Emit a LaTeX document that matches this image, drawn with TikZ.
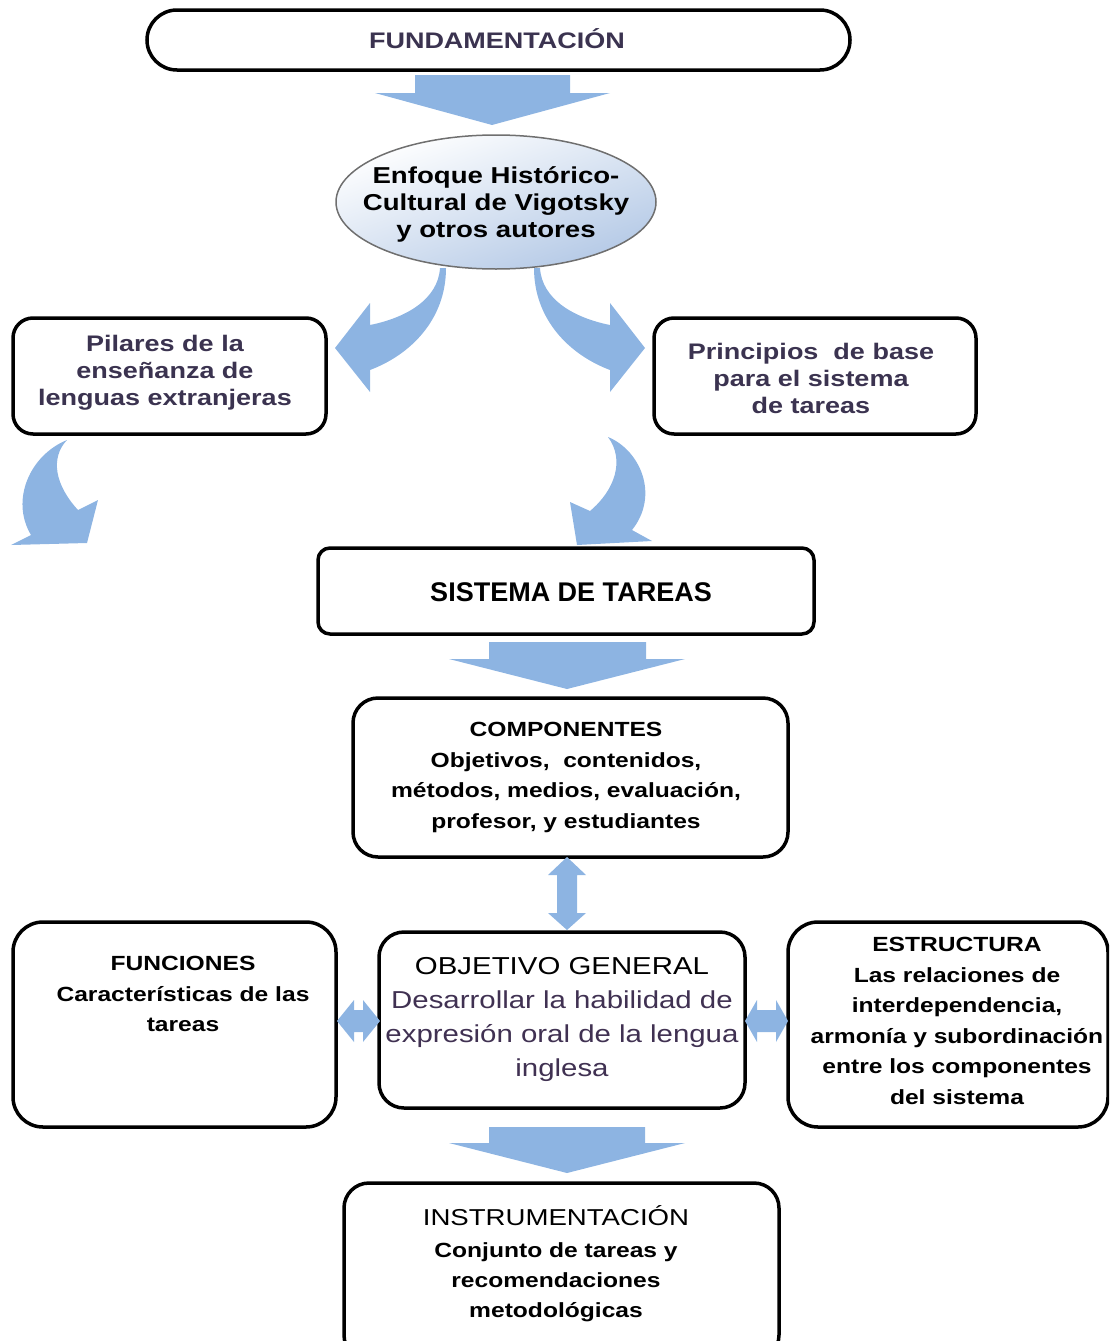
\documentclass[tikz,border=0pt]{standalone}
\usepackage{fontspec}
\setmainfont{Liberation Sans}[FakeStretch=1.2]
\newfontfamily\plainsans{Liberation Sans}
\usetikzlibrary{shapes.geometric}
\definecolor{arrowblue}{HTML}{8DB4E2}
\definecolor{darkpurple}{HTML}{3B3350}
\definecolor{objpurple}{HTML}{403152}
\definecolor{ellblue}{HTML}{B4C9E6}
\definecolor{ellborder}{HTML}{6F6F6F}
\newcommand{\fsz}[2]{\fontsize{#1}{#2}\selectfont}
\begin{document}
\begin{tikzpicture}[x=1pt,y=-1pt,
  box/.style={draw=black, line width=3.5pt, rounded corners=#1, fill=white},
  box/.default=20pt,
  txt/.style={align=center, inner sep=0pt},
  blockarrow/.style={fill=arrowblue, draw=none}]
\useasboundingbox (0,0) rectangle (1109,1341);
\clip (0,0) rectangle (1109,1341);

% boxes
\node[box=30pt, minimum width=703pt, minimum height=60pt] (fund) at (498.5,40) {};
\node[ellipse, draw=ellborder, line width=1.5pt, minimum width=320pt, minimum height=134pt,
      top color=white, bottom color=ellblue, shading angle=20] (enf) at (496,202) {};
\node[box=20pt, minimum width=313pt, minimum height=116pt] (pil) at (169.5,376) {};
\node[box=20pt, minimum width=322pt, minimum height=116pt] (prin) at (815,376) {};
\node[box=12pt, minimum width=496pt, minimum height=86pt] (sis) at (566,591) {};
\node[box=25pt, minimum width=435pt, minimum height=159pt] (comp) at (570.5,777.5) {};
\node[box=30pt, minimum width=323pt, minimum height=205pt] (func) at (174.5,1024.5) {};
\node[box=25pt, minimum width=366pt, minimum height=176pt] (obj) at (562,1020) {};
\node[box=30pt, minimum width=320pt, minimum height=205pt] (est) at (948,1024.5) {};
\node[box=25pt, minimum width=435pt, minimum height=177pt] (inst) at (561.5,1271.5) {};

% texts
\node[txt, text=darkpurple, font=\bfseries\fsz{22.5}{27}] (fundt) at (497,39) {FUNDAMENTACIÓN};
\node[txt, text=black, font=\bfseries\fsz{23}{27}] (enft) at (496,204) {Enfoque Histórico-\\Cultural de Vigotsky\\y otros autores};
\node[txt, text=darkpurple, font=\bfseries\fsz{22.5}{27}] (pilt) at (165,373) {Pilares de la\\enseñanza de\\lenguas extranjeras};
\node[txt, text=darkpurple, font=\bfseries\fsz{22.5}{27}] (print) at (811,378) {Principios~ de base\\para el sistema\\de tareas};
\node[txt, text=black, font=\plainsans\bfseries\fsz{27}{30}] (sist) at (571,592) {SISTEMA DE TAREAS};
\node[txt, text=black, font=\bfseries\fsz{20.5}{30.5}] (compt) at (566,777.5) {COMPONENTES\\Objetivos,~ contenidos,\\métodos, medios, evaluación,\\profesor, y estudiantes};
\node[txt, text=black, font=\bfseries\fsz{20.5}{30.5}] (funct) at (183,994) {FUNCIONES\\Características de las\\tareas};
\node[txt, text=black, font=\fsz{24.5}{34}] (objt) at (562,1019) {OBJETIVO GENERAL\\\textcolor{objpurple}{Desarrollar la habilidad de}\\\textcolor{objpurple}{expresión oral de la lengua}\\\textcolor{objpurple}{inglesa}};
\node[txt, text=black, font=\bfseries\fsz{20.5}{30.5}] (estt) at (957,1021) {ESTRUCTURA\\Las relaciones de\\interdependencia,\\armonía y subordinación\\entre los componentes\\del sistema};
\node[txt, text=black, font=\fsz{23}{30}] (instt) at (556,1216) {INSTRUMENTACIÓN};
\node[txt, text=black, font=\bfseries\fsz{20.5}{30}] (instb) at (556,1282) {Conjunto de tareas y\\recomendaciones\\metodológicas};

% straight block arrows
\fill[blockarrow] (415,75) -- (570,75) -- (570,93) -- (610,93) -- (492,125) -- (375,93) -- (415,93) -- cycle;
\fill[blockarrow] (489,642) -- (646,642) -- (646,659) -- (685,659) -- (567,689) -- (449,659) -- (489,659) -- cycle;
\fill[blockarrow] (489,1127) -- (645,1127) -- (645,1143) -- (685,1143) -- (567,1173) -- (449,1143) -- (489,1143) -- cycle;

% curved arrows from ellipse
\fill[blockarrow] (440,268) .. controls (438,300) and (405,318) .. (370,325) -- (370,303) -- (335,348) -- (370,392) -- (370,370) .. controls (410,355) and (446,320) .. (446,268) -- cycle;
\fill[blockarrow] (540,268) .. controls (542,300) and (575,318) .. (610,325) -- (610,303) -- (645,348) -- (610,392) -- (610,370) .. controls (570,355) and (534,320) .. (534,268) -- cycle;

% curved arrows below boxes
\fill[blockarrow] (67,440) .. controls (30,455) and (10,500) .. (31,535) -- (11,545) -- (87,543) -- (98,500) -- (78,510) .. controls (55,485) and (50,458) .. (67,440) -- cycle;
\fill[blockarrow] (608,437) .. controls (640,450) and (660,495) .. (632,530) -- (652,541) -- (577,545) -- (570,502) -- (590,511) .. controls (615,490) and (625,460) .. (608,437) -- cycle;

% double arrows
\fill[blockarrow] (567,857) -- (586,875) -- (577,875) -- (577,913) -- (586,913) -- (567,930) -- (548,913) -- (557,913) -- (557,875) -- (548,875) -- cycle;
\fill[blockarrow] (337,1021) -- (354,1000) -- (354,1010) -- (363,1010) -- (363,1000) -- (380,1021) -- (363,1042) -- (363,1032) -- (354,1032) -- (354,1042) -- cycle;
\fill[blockarrow] (745,1021) -- (757,1000) -- (757,1010) -- (776,1010) -- (776,1000) -- (788,1021) -- (776,1042) -- (776,1032) -- (757,1032) -- (757,1042) -- cycle;
\end{tikzpicture}
\end{document}
